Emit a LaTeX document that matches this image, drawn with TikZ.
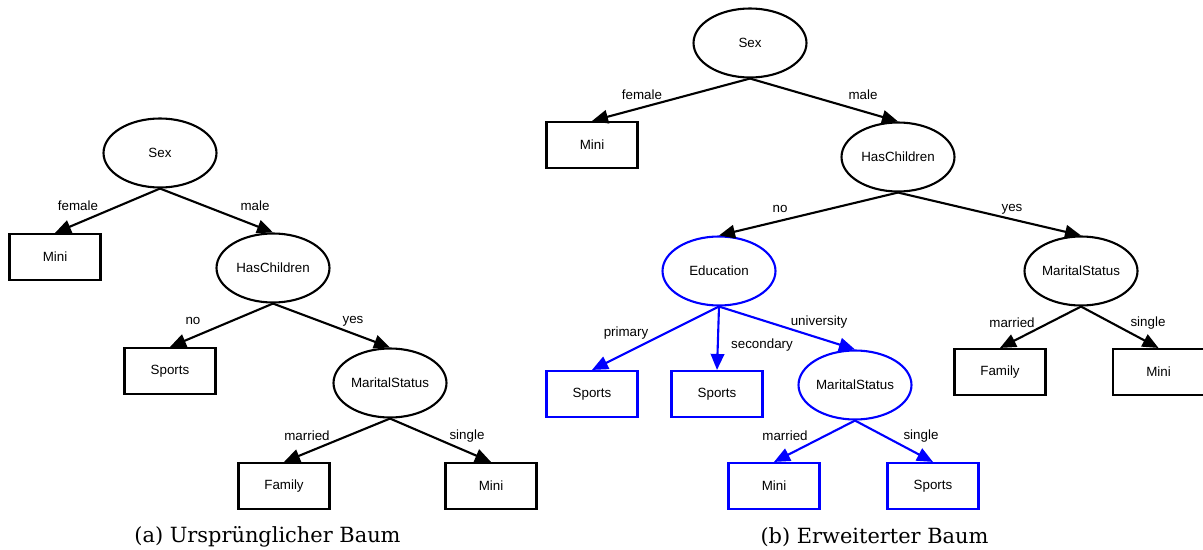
\documentclass[tikz,border=0pt]{standalone}
\usepackage{fontspec}
\setsansfont{Liberation Sans}
\newfontfamily\capfont{DejaVu Serif}
\usetikzlibrary{arrows.meta,shapes.geometric}

\tikzset{
	attr/.style={ellipse, draw, line width=1.2pt, minimum width=22.6mm, minimum height=13.8mm, inner sep=0pt, font=\sffamily\fontsize{7.6}{9}\selectfont},
	leaf/.style={rectangle, draw, line width=1.2pt, minimum width=18.2mm, minimum height=9.2mm, inner sep=0pt, font=\sffamily\fontsize{7.6}{9}\selectfont},
	edge/.style={line width=1.2pt, -{Triangle[length=3.2mm,width=2.7mm]}},
	lbl/.style={font=\sffamily\fontsize{7.6}{9}\selectfont},
	new/.style={draw=blue, color=blue, text=black},
	subcap/.style={font=\capfont\fontsize{11.9}{14}\selectfont}
}

\begin{document}
\begin{tikzpicture}[x=0.02cm, y=-0.02cm]
		\useasboundingbox (0,0) rectangle (1203,550);

		% (a) original tree
		\node[attr] (aSex) at (160,153) {Sex};
		\node[leaf] (aMini) at (55,257) {Mini};
		\node[attr] (aHas) at (273,268) {HasChildren};
		\node[leaf] (aSports) at (170,371) {Sports};
		\node[attr] (aMar) at (390,383) {MaritalStatus};
		\node[leaf] (aFam) at (284,486) {Family};
		\node[leaf] (aMini2) at (491,486) {Mini};

		\draw[edge] (aSex.south) -- (aMini.north);
		\draw[edge] (aSex.south) -- (aHas.north);
		\draw[edge] (aHas.south) -- (aSports.north);
		\draw[edge] (aHas.south) -- (aMar.north);
		\draw[edge] (aMar.south) -- (aFam.north);
		\draw[edge] (aMar.south) -- (aMini2.north);

		\node[lbl] (alfemale) at (78,206) {female};
		\node[lbl] (almale) at (255,206) {male};
		\node[lbl] (alno) at (193,321) {no};
		\node[lbl] (alyes) at (353,321) {yes};
		\node[lbl] (almarried) at (307,436) {married};
		\node[lbl] (alsingle) at (467,436) {single};

		\node[subcap] (capa) at (267.5,537) {(a) Ursprünglicher Baum};

		% (b) extended tree
		\node[attr] (bSex) at (750,43) {Sex};
		\node[leaf] (bMini) at (592,145) {Mini};
		\node[attr] (bHas) at (898,157) {HasChildren};
		\node[attr, new] (bEdu) at (719,271) {Education};
		\node[attr] (bMar) at (1081,271) {MaritalStatus};
		\node[leaf, new] (bSports) at (592,394) {Sports};
		\node[leaf, new] (bSports2) at (717,394) {Sports};
		\node[attr, new] (bMar2) at (855,385) {MaritalStatus};
		\node[leaf] (bFam) at (1000,372) {Family};
		\node[leaf] (bMini2) at (1158.5,372) {Mini};
		\node[leaf, new] (bMini3) at (774,486) {Mini};
		\node[leaf, new] (bSports3) at (933,486) {Sports};

		\draw[edge] (bSex.south) -- (bMini.north);
		\draw[edge] (bSex.south) -- (bHas.north);
		\draw[edge] (bHas.south) -- (bEdu.north);
		\draw[edge] (bHas.south) -- (bMar.north);
		\draw[edge, blue] (bEdu.south) -- (bSports.north);
		\draw[edge, blue] (bEdu.south) -- (bSports2.north);
		\draw[edge, blue] (bEdu.south) -- (bMar2.north);
		\draw[edge] (bMar.south) -- (bFam.north);
		\draw[edge] (bMar.south) -- (bMini2.north);
		\draw[edge, blue] (bMar2.south) -- (bMini3.north);
		\draw[edge, blue] (bMar2.south) -- (bSports3.north);

		\node[lbl] (blfemale) at (642,95) {female};
		\node[lbl] (blmale) at (863,95) {male};
		\node[lbl] (blno) at (780,209) {no};
		\node[lbl] (blyes) at (1012,209) {yes};
		\node[lbl] (blprimary) at (626,333) {primary};
		\node[lbl] (blsecondary) at (762,345) {secondary};
		\node[lbl] (bluniversity) at (819,322) {university};
		\node[lbl] (blmarried) at (1012,323) {married};
		\node[lbl] (blsingle) at (1148,323) {single};
		\node[lbl] (blmarried2) at (785,436) {married};
		\node[lbl] (blsingle2) at (921,436) {single};

		\node[subcap] (capb) at (874.5,537) {(b) Erweiterter Baum};
	\end{tikzpicture}
\end{document}
